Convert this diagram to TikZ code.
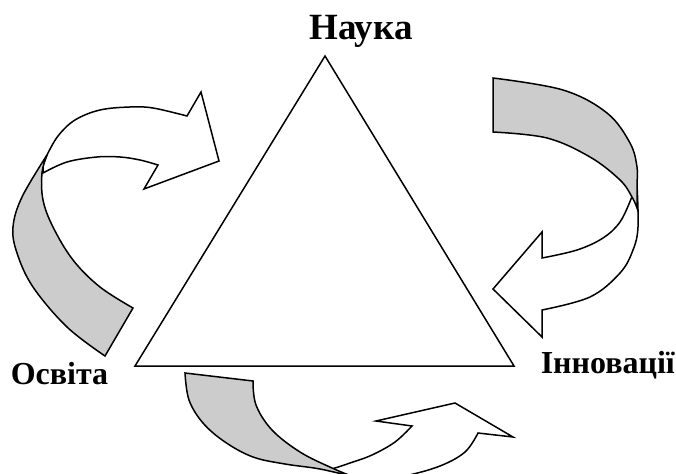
\documentclass[tikz,border=0pt]{standalone}
\usepackage{fontspec}
\setmainfont{Liberation Serif}
\definecolor{bandgray}{RGB}{204,204,204}
\begin{document}
\begin{tikzpicture}[x=1pt,y=-1pt,line width=1.5pt,line join=miter,
  ribbon/.style={draw=black,fill=bandgray},
  arrowbody/.style={draw=black,fill=white},
  lbl/.style={font=\fontsize{32}{36}\selectfont\bfseries,inner sep=0pt}]
\useasboundingbox (0,0) rectangle (676,473);
\clip (0,0) rectangle (676,473);
% triangle
\coordinate (apex) at (325,56);
\coordinate (bl) at (135,366);
\coordinate (br) at (514,366);
\draw (apex) -- (bl) -- (br) -- cycle;
% labels
\node[lbl,font=\fontsize{37}{40}\selectfont\bfseries,anchor=base] (nauka) at (361,40) {Наука};
\node[lbl,anchor=base west] (osvita) at (10,384) {Освіта};
\node[lbl,anchor=base west] (innov) at (540,373) {Інновації};
% ---- left arrow (Освіта -> Наука)
\path[arrowbody] (43,173) -- plot[smooth,tension=0.6] coordinates {(43,173) (67,162) (97,157) (120,157) (140,160) (158,165)}
  -- (144,189) -- (219,161) -- (201,92) -- (187,116)
  -- plot[smooth,tension=0.6] coordinates {(187,116) (153,108) (130,107) (100,110) (75,120) (58,136) (47,155)}
  -- (43,165) -- cycle;
\path[ribbon] (47,155) -- plot[smooth,tension=0.6] coordinates {(47,155) (22,197) (13,227) (17,253) (33,287) (67,327) (105,356)}
  -- (133,308)
  -- plot[smooth,tension=0.6] coordinates {(133,308) (100,287) (73,260) (53,227) (43,200) (42,173) (47,155)}
  -- cycle;
% ---- right arrow (Наука -> Інновації)
\path[arrowbody] (637,185) -- plot[smooth,tension=0.6] coordinates {(637,185) (638,227) (633,250) (620,273) (590,297) (542,310)}
  -- (542,337) -- (493,289) -- (542,232) -- (542,258)
  -- plot[smooth,tension=0.6] coordinates {(542,258) (577,250) (603,238) (620,222) (631,199)}
  -- cycle;
\path[ribbon] (493,78) -- (493,132)
  -- plot[smooth,tension=0.6] coordinates {(493,132) (547,138) (590,157) (620,180) (632,197) (637,208)}
  -- plot[smooth,tension=0.6] coordinates {(637,208) (637,185) (637,167) (630,143) (607,113) (563,90) (493,78)}
  -- cycle;
% ---- bottom arrow (Освіта -> Інновації)
\path[arrowbody] (332,469) -- plot[smooth,tension=0.6] coordinates {(332,469) (350,463) (372,455) (395,442) (412,426)}
  -- (376,421) -- (455,403) -- (513,437) -- (478,433)
  -- plot[smooth,tension=0.6] coordinates {(478,433) (465,452) (440,466) (405,476) (370,482)}
  -- (352,480) -- cycle;
\path[ribbon] (185,373) -- (253,381)
  -- plot[smooth,tension=0.6] coordinates {(253,381) (256,405) (272,430) (300,452) (332,468) (354,477)}
  -- plot[smooth,tension=0.6] coordinates {(354,477) (320,469) (285,464) (253,457) (225,442) (203,423) (189,400) (185,373)}
  -- cycle;
\end{tikzpicture}
\end{document}
